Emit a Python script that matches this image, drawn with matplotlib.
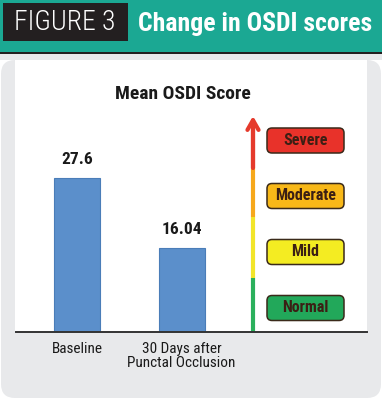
import matplotlib
matplotlib.use("Agg")
import matplotlib.pyplot as plt
from matplotlib import font_manager
from matplotlib.patches import Rectangle, FancyBboxPatch

# chart data
categories = ["Baseline", "30 Days after\nPunctal Occlusion"]
scores = [27.6, 16.04]
value_labels = ["27.6", "16.04"]
levels = ["Normal", "Mild", "Moderate", "Severe"]
level_colors = ["#22a85a", "#f4ec22", "#f8b818", "#e8322a"]
line_colors = ["#2bb05c", "#f2e52a", "#f6a81c", "#e53a2c"]

# pick the narrowest font that is installed
avail = {f.name for f in font_manager.fontManager.ttflist}
for name in ["Liberation Sans Narrow", "Roboto Condensed", "Roboto", "DejaVu Sans"]:
    if name in avail:
        FONT = [name, "DejaVu Sans"]
        break

W, H = 382, 400


def Y(y):
    # pixel row (from top) -> deco axes coordinate
    return H - y


fig = plt.figure(figsize=(W / 100, H / 100), dpi=100)
fig.patch.set_facecolor("white")

deco = fig.add_axes([0, 0, 1, 1])
deco.set_xlim(0, W)
deco.set_ylim(0, H)
deco.axis("off")

# header
deco.add_patch(Rectangle((0, Y(52)), W, 52, color="#1ba893", lw=0))
deco.add_patch(Rectangle((0, Y(60)), W, 8, color="#231f20", lw=0))
deco.add_patch(Rectangle((3, Y(41)), 125, 38, color="#231f20", lw=0))
deco.text(65, Y(23), "FIGURE 3", color="white", fontsize=20, family=FONT,
          fontweight="light", ha="center", va="center")
deco.text(255, Y(24), "Change in OSDI scores", color="white", fontsize=18.5,
          fontweight="bold", family=FONT, ha="center", va="center")

# grey card with white plotting area
deco.add_patch(FancyBboxPatch((1, Y(398)), 380, 338,
                              boxstyle="round,pad=0,rounding_size=14",
                              facecolor="#e8e9eb", edgecolor="none"))
deco.add_patch(Rectangle((0, Y(60)), W, 6, color="#e8e9eb", lw=0))
deco.add_patch(Rectangle((15, Y(332)), 352, 272, color="white", lw=0))
deco.text(183, Y(94), "Mean OSDI Score", family=FONT, fontsize=14,
          fontweight="bold", color="#1a1a1a", ha="center", va="center")

# bar chart
ax = fig.add_axes([16 / W, 68 / H, 351 / W, 262 / H])
ax.patch.set_alpha(0)
x = range(len(scores))
ax.bar(x, scores, width=0.44, color="#5b8fcb", edgecolor="#4a7db8", lw=0.8)
for i, (v, lab) in enumerate(zip(scores, value_labels)):
    ax.annotate(lab, (i, v), xytext=(0, 8), textcoords="offset points",
                ha="center", va="bottom", fontsize=12.5, fontweight="bold",
                family=FONT, color="#1a1a1a")
ax.set_xlim(-0.584, 2.775)
ax.set_ylim(2.2, 45.4)
ax.set_xticks(list(x))
ax.set_xticklabels(categories, family=FONT, fontsize=11, color="#1a1a1a",
                   linespacing=1.05)
ax.tick_params(axis="x", length=0, pad=7)
ax.set_yticks([])
for s in ["top", "right", "left"]:
    ax.spines[s].set_visible(False)
ax.spines["bottom"].set_color("#333333")
ax.spines["bottom"].set_linewidth(1.4)

# severity scale
box_cy = [308, 252, 196, 140.5]
bounds = [332, 278, 217, 168, 125]
for i, (name, fc) in enumerate(zip(levels, level_colors)):
    deco.plot([253, 253], [Y(bounds[i]), Y(bounds[i + 1])],
              color=line_colors[i], lw=3, solid_capstyle="butt")
    deco.add_patch(FancyBboxPatch((267, Y(box_cy[i] + 12.5)), 77, 25,
                                  boxstyle="round,pad=0,rounding_size=5",
                                  facecolor=fc, edgecolor="#3a2a1a", lw=1.1))
    deco.text(305.5, Y(box_cy[i]), name, ha="center", va="center",
              fontsize=11.5, fontweight="bold", family=FONT, color="#3b1f14")
deco.annotate("", xy=(253, Y(116)), xytext=(253, Y(168)),
              arrowprops=dict(arrowstyle="->,head_length=0.7,head_width=0.4",
                              lw=3, color=line_colors[-1],
                              shrinkA=0, shrinkB=0))

fig.savefig("out.png", dpi=100)
